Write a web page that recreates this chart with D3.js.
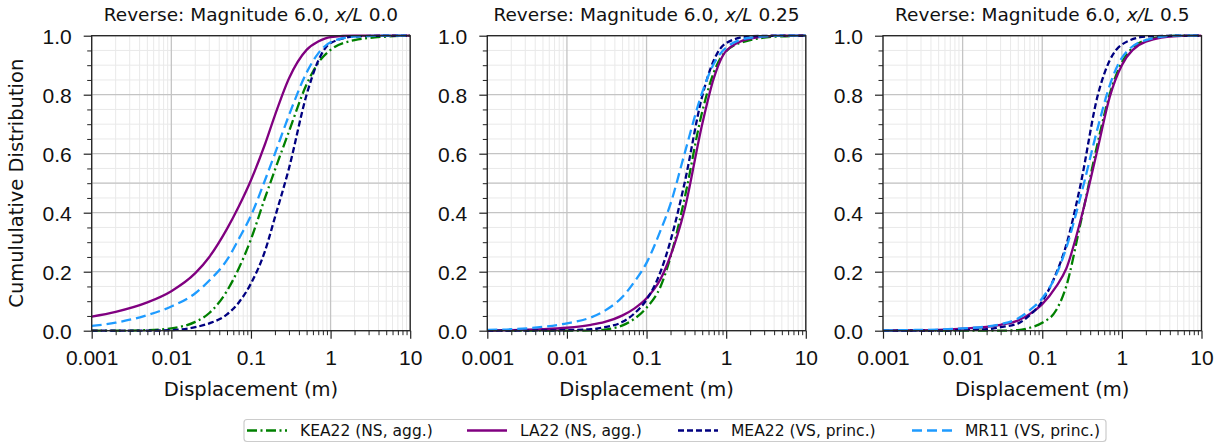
<!DOCTYPE html>
<html lang='en'>
<head>
    <meta charset='UTF-8'>
    <title>Displacement CDF</title>
    <style>
        body { margin: 0; background: #fff; }
        svg { font-family: 'DejaVu Sans', sans-serif; }
        .grid-major line { stroke: #c4c4c4; stroke-width: 1.3px; }
        .grid-minor line { stroke: #e9e9e9; stroke-width: 1px; }
        .tick line { stroke: #222; }
        .curve { fill: none; stroke-width: 2.3px; }
    </style>
</head>
<body>
    <div id="chart"></div>
    <script src='https://d3js.org/d3.v7.min.js'></script>
    <script>
        const width = 1225
        const height = 444

        // displacement (m) at which the curves were read
        const disp = [0.001, 0.002, 0.005, 0.01, 0.02, 0.03, 0.05, 0.07, 0.1, 0.15, 0.2, 0.3, 0.5, 0.7, 1, 2, 5, 10]

        // x/L 0.0
        const kea00 = [0, 0, 0.002, 0.008, 0.03, 0.06, 0.135, 0.21, 0.31, 0.45, 0.545, 0.675, 0.835, 0.908, 0.952, 0.985, 0.997, 1]
        const la00  = [0.048, 0.064, 0.096, 0.134, 0.195, 0.25, 0.345, 0.42, 0.51, 0.632, 0.73, 0.855, 0.952, 0.98, 0.995, 1, 1, 1]
        const mea00 = [0, 0, 0, 0.002, 0.012, 0.025, 0.055, 0.095, 0.16, 0.27, 0.384, 0.55, 0.8, 0.915, 0.975, 0.997, 1, 1]
        const mr00  = [0.016, 0.027, 0.053, 0.082, 0.127, 0.17, 0.24, 0.31, 0.39, 0.51, 0.6, 0.73, 0.875, 0.94, 0.978, 0.997, 1, 1]

        // x/L 0.25
        const kea25 = [0, 0, 0, 0, 0.001, 0.004, 0.018, 0.04, 0.078, 0.15, 0.25, 0.448, 0.742, 0.876, 0.948, 0.985, 0.998, 1]
        const la25  = [0, 0.002, 0.005, 0.01, 0.02, 0.03, 0.052, 0.075, 0.11, 0.175, 0.254, 0.41, 0.7, 0.856, 0.948, 0.99, 1, 1]
        const mea25 = [0, 0, 0.001, 0.002, 0.005, 0.012, 0.03, 0.058, 0.105, 0.2, 0.305, 0.5, 0.795, 0.917, 0.975, 0.998, 1, 1]
        const mr25  = [0.003, 0.005, 0.013, 0.025, 0.045, 0.068, 0.115, 0.165, 0.23, 0.34, 0.43, 0.6, 0.808, 0.905, 0.96, 0.993, 1, 1]

        // x/L 0.5
        const kea50 = [0, 0, 0, 0, 0, 0, 0.002, 0.01, 0.027, 0.07, 0.15, 0.36, 0.64, 0.8, 0.91, 0.985, 1, 1]
        const la50  = [0, 0.001, 0.003, 0.007, 0.013, 0.02, 0.035, 0.057, 0.09, 0.15, 0.21, 0.37, 0.62, 0.79, 0.9, 0.98, 0.999, 1]
        const mea50 = [0, 0, 0, 0.002, 0.005, 0.012, 0.025, 0.053, 0.1, 0.195, 0.29, 0.49, 0.8, 0.915, 0.97, 0.997, 1, 1]
        const mr50  = [0.001, 0.002, 0.004, 0.008, 0.014, 0.022, 0.042, 0.07, 0.11, 0.19, 0.28, 0.45, 0.69, 0.83, 0.925, 0.985, 1, 1]

        const models = ['KEA22 (NS, agg.)', 'LA22 (NS, agg.)', 'MEA22 (VS, princ.)', 'MR11 (VS, princ.)']
        const colors = ['#008000', '#800080', '#000080', '#1e9bff']
        const dashes = ['10,3.5,2,3.5', null, '6,3', '10,5']
        const titles = ['0.0', '0.25', '0.5']
        const panelData = [
            [kea00, la00, mea00, mr00],
            [kea25, la25, mea25, mr25],
            [kea50, la50, mea50, mr50]
        ]
        const xTicks = [0.001, 0.01, 0.1, 1, 10]
        const yTicks = [0, 0.2, 0.4, 0.6, 0.8, 1.0]

        const panelLeft = [91.7, 487.3, 883]
        const panelW = 318.5
        const plotTop = 35.7
        const plotBottom = 330.7

        const svg = d3.select('#chart')
            .append('svg')
            .attr('width', width)
            .attr('height', height)

        const y = d3.scaleLinear().domain([0, 1]).range([plotBottom, plotTop])

        // minor positions
        const xMinor = []
        for (let e = -3; e < 1; e++) {
            for (let m = 2; m <= 9; m++) xMinor.push(m * Math.pow(10, e))
        }
        const yMinor = d3.range(0, 21).map(i => i * 0.05).filter(v => Math.round(v * 100) % 20 !== 0)

        const fmt = d => (d >= 1 ? d3.format('d')(d) : String(+d.toFixed(3)))

        panelData.forEach((series, p) => {
            const x = d3.scaleLog().domain([0.001, 10]).range([panelLeft[p], panelLeft[p] + panelW])
            const g = svg.append('g')

            // grid
            const gm = g.append('g').attr('class', 'grid-minor')
            gm.selectAll('line.v').data(xMinor).enter().append('line')
                .attr('x1', d => x(d)).attr('x2', d => x(d)).attr('y1', plotTop).attr('y2', plotBottom)
            gm.selectAll('line.h').data(yMinor).enter().append('line')
                .attr('x1', x.range()[0]).attr('x2', x.range()[1]).attr('y1', d => y(d)).attr('y2', d => y(d))

            const gM = g.append('g').attr('class', 'grid-major')
            gM.selectAll('line.v').data(xTicks).enter().append('line')
                .attr('x1', d => x(d)).attr('x2', d => x(d)).attr('y1', plotTop).attr('y2', plotBottom)
            gM.selectAll('line.h').data(yTicks.concat([0.5])).enter().append('line')
                .attr('x1', x.range()[0]).attr('x2', x.range()[1]).attr('y1', d => y(d)).attr('y2', d => y(d))

            // curves
            const line = d3.line()
                .x((d, i) => x(disp[i]))
                .y(d => y(d))
                .curve(d3.curveMonotoneX)

            const clipId = 'clip' + p
            svg.append('clipPath').attr('id', clipId)
                .append('rect')
                .attr('x', x.range()[0]).attr('y', plotTop - 2)
                .attr('width', panelW).attr('height', plotBottom - plotTop + 4)

            const cg = g.append('g').attr('clip-path', `url(#${clipId})`)
            series.forEach((vals, k) => {
                cg.append('path')
                    .attr('class', 'curve')
                    .attr('d', line(vals))
                    .attr('stroke', colors[k])
                    .attr('stroke-dasharray', dashes[k])
            })

            // axes
            const xAxis = g.append('g')
                .attr('transform', `translate(0,${plotBottom})`)
                .call(d3.axisBottom(x).tickValues(xTicks).tickFormat(fmt).tickSize(8))
            xAxis.select('.domain').remove()
            xAxis.selectAll('text')
                .attr('y', 34.5).attr('dy', null)
                .attr('font-size', '21px').attr('fill', '#111')
            xAxis.selectAll('line').attr('stroke-width', 1.2)

            const xAxisMinor = g.append('g')
                .attr('transform', `translate(0,${plotBottom})`)
                .call(d3.axisBottom(x).tickValues(xMinor).tickFormat('').tickSize(4.5))
            xAxisMinor.select('.domain').remove()

            const yAxis = g.append('g')
                .attr('transform', `translate(${x.range()[0]},0)`)
                .call(d3.axisLeft(y).tickValues(yTicks).tickFormat(d3.format('.1f')).tickSize(8).tickPadding(12))
            yAxis.select('.domain').remove()
            yAxis.selectAll('text')
                .attr('font-size', '21px').attr('fill', '#111').attr('dy', '0.36em')
            yAxis.selectAll('line').attr('stroke-width', 1.2)

            const yAxisMinor = g.append('g')
                .attr('transform', `translate(${x.range()[0]},0)`)
                .call(d3.axisLeft(y).tickValues(yMinor).tickFormat('').tickSize(4.5))
            yAxisMinor.select('.domain').remove()

            // frame
            g.append('rect')
                .attr('x', x.range()[0]).attr('y', plotTop)
                .attr('width', panelW).attr('height', plotBottom - plotTop)
                .attr('fill', 'none').attr('stroke', '#222').attr('stroke-width', 1.3)

            // title
            const t = g.append('text')
                .attr('x', x.range()[0] + panelW / 2)
                .attr('y', 20.5)
                .attr('text-anchor', 'middle')
                .attr('font-size', '18.5px')
                .attr('fill', '#111')
            t.append('tspan').text('Reverse: Magnitude 6.0, ')
            t.append('tspan').attr('font-style', 'italic').text('x/L')
            t.append('tspan').text(' ' + titles[p])

            g.append('text')
                .attr('x', x.range()[0] + panelW / 2)
                .attr('y', 396)
                .attr('text-anchor', 'middle')
                .attr('font-size', '19.5px')
                .attr('fill', '#111')
                .text('Displacement (m)')
        })

        svg.append('text')
            .attr('transform', `translate(23,${(plotTop + plotBottom) / 2}) rotate(-90)`)
            .attr('text-anchor', 'middle')
            .attr('font-size', '19.5px')
            .attr('fill', '#111')
            .text('Cumululative Distribution')

        // legend
        const legend = svg.append('g')
        legend.append('rect')
            .attr('x', 244).attr('y', 419.5)
            .attr('width', 862).attr('height', 22)
            .attr('rx', 3)
            .attr('fill', '#fff').attr('stroke', '#cccccc').attr('stroke-width', 1.2)

        const legX = [247, 467, 678, 912]
        models.forEach((name, k) => {
            legend.append('line')
                .attr('x1', legX[k]).attr('x2', legX[k] + 40)
                .attr('y1', 430.5).attr('y2', 430.5)
                .attr('stroke', colors[k]).attr('stroke-width', 2.3)
                .attr('stroke-dasharray', dashes[k])
            legend.append('text')
                .attr('x', legX[k] + 53).attr('y', 430.5)
                .attr('dy', '0.36em')
                .attr('font-size', '15.5px')
                .attr('fill', '#111')
                .text(name)
        })
    </script>
</body>
</html>
